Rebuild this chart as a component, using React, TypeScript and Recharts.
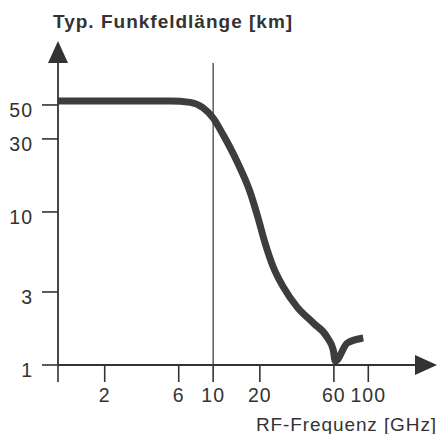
import { Line, LineChart, ReferenceLine, XAxis, YAxis } from "recharts"

// Typical hop length vs. RF frequency (log-log)
const FREQ_GHZ = [
  1, 3, 5.3, 7.1, 8.6, 10, 11.6, 14.3, 17.3, 19.5, 21.6, 24.4, 28.3, 34.8, 44.2, 54.3,
  59.5, 61.2, 73.2, 92.8,
]
const HOP_KM = [
  53, 53, 53, 52, 47.9, 41.1, 31.9, 21.2, 13.5, 9.1, 6.27, 4.37, 3.24, 2.39, 1.88, 1.52,
  1.25, 1.06, 1.39, 1.5,
]

const X_TICKS = [1, 2, 6, 10, 20, 60, 100]
const Y_TICKS = [1, 3, 10, 30, 50]

const X_DOMAIN = [1, 200]
const Y_DOMAIN = [1, 94]

const data = FREQ_GHZ.map((f, i) => ({ f, km: HOP_KM[i] }))

const INK = "#333"
const FONT = "'Liberation Sans', Arial, sans-serif"

export default function App() {
  return (
    <div style={{ position: "absolute", left: 0, top: 0, width: 440, height: 434, background: "#fff" }}>
      <LineChart
        width={440}
        height={434}
        data={data}
        margin={{ top: 63, right: 25, bottom: 29, left: 0 }}
      >
        <defs>
          <marker
            id="arrowHead"
            viewBox="0 0 22 20"
            refX={0}
            refY={10}
            markerWidth={22}
            markerHeight={20}
            markerUnits="userSpaceOnUse"
            orient="auto-start-reverse"
          >
            <path d="M0,0 L22,10 L0,20 z" fill={INK} />
          </marker>
        </defs>
        <XAxis
          dataKey="f"
          type="number"
          scale="log"
          domain={X_DOMAIN}
          allowDataOverflow
          ticks={X_TICKS}
          interval={0}
          tickFormatter={(v) => (v === 1 ? "" : String(v))}
          tickSize={17}
          tickMargin={6}
          height={40}
          tick={{ fontSize: 19.5, fill: INK, fontFamily: FONT, letterSpacing: 1 }}
          tickLine={{ stroke: INK, strokeWidth: 1.6 }}
          axisLine={{ stroke: INK, strokeWidth: 1.8, markerEnd: "url(#arrowHead)" }}
        />
        <YAxis
          type="number"
          scale="log"
          domain={Y_DOMAIN}
          allowDataOverflow
          ticks={Y_TICKS}
          interval={0}
          tickSize={16}
          tickMargin={9}
          width={58}
          tick={{ fontSize: 19.5, fill: INK, fontFamily: FONT, letterSpacing: 1, dy: 5 }}
          tickLine={{ stroke: INK, strokeWidth: 1.6 }}
          axisLine={{ stroke: INK, strokeWidth: 1.8, markerStart: "url(#arrowHead)" }}
        />
        <ReferenceLine x={10} stroke={INK} strokeWidth={1.2} />
        <Line
          type="monotone"
          dataKey="km"
          stroke="#3d3d3d"
          strokeWidth={7}
          dot={false}
          isAnimationActive={false}
        />
        <text x={53} y={28} fontSize={19} fontWeight="bold" fill={INK} fontFamily={FONT} letterSpacing={1}>
          Typ. Funkfeldlänge [km]
        </text>
        <text x={437} y={431} fontSize={19} textAnchor="end" fill={INK} fontFamily={FONT} letterSpacing={0.9}>
          RF-Frequenz [GHz]
        </text>
      </LineChart>
    </div>
  )
}
